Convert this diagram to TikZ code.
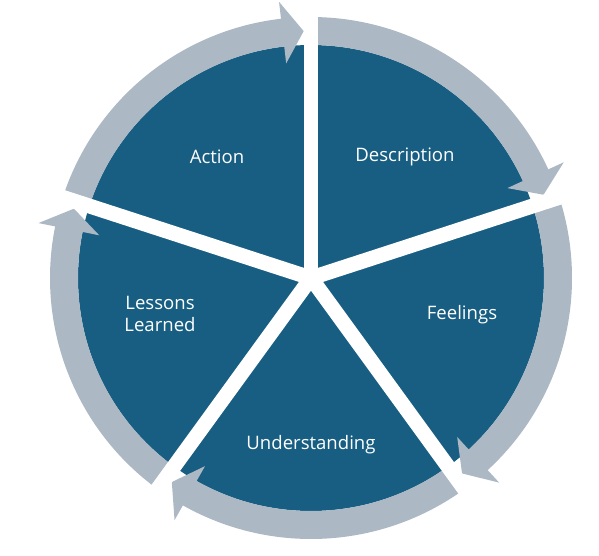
\documentclass[tikz,border=0pt]{standalone}
\usepackage{fontspec}
\setmainfont{Open Sans}
\definecolor{cycleblue}{RGB}{23,94,130}
\definecolor{arrowgray}{RGB}{172,184,196}
\tikzset{
  stage/.style={text=white, font=\fontsize{13.2}{16}\selectfont, align=center},
}

\begin{document}
\begin{tikzpicture}[x=0.025cm, y=0.025cm]
  \useasboundingbox (-311,-277) rectangle (288,278);

  % Disk
  \fill[cycleblue] (0,0) circle (233);

  % Cycle arrows, clockwise, tip at the next gap
  \foreach \a in {90,18,-54,-126,-198} {
    \pgfmathsetmacro{\tip}{\a-72+1.7}
    \pgfmathsetmacro{\base}{\tip+4.9}
    \fill[arrowgray] (\a:233) arc[start angle=\a, end angle=\base, radius=233]
      -- (\base:216) -- (\tip:247) -- (\base:278) -- (\base:261)
      arc[start angle=\base, end angle=\a, radius=261] -- cycle;
  }

  % Gaps
  \foreach \a in {90,18,-54,-126,162}
    \draw[white, line width=10.6pt] (0,0) -- (\a:285);
  \fill[white] (0,0) circle (8);

  % Labels
  \node[stage] (act) at (-94,121) {Action};
  \node[stage] (desc) at (94,121) {Description};
  \node[stage] (feel) at (151,-37) {Feelings};
  \node[stage] (und) at (0,-167) {Understanding};
  \node[stage] (less) at (-151,-36) {Lessons\\Learned};
\end{tikzpicture}
\end{document}
